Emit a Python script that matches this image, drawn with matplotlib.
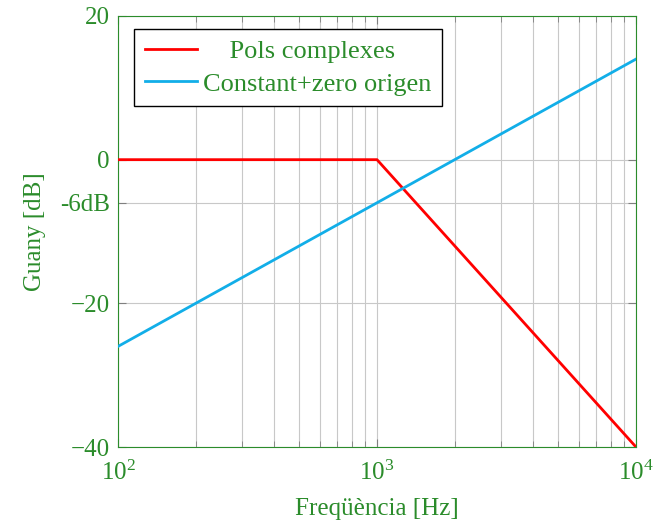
import numpy as np
import matplotlib.pyplot as plt
import matplotlib.ticker as ticker

# Bode asymptotes
freq_pols = [1e2, 1e3, 1e4]
gain_pols = [0, 0, -40]
freq_zero = [1e2, 1e4]
gain_zero = [-26, 14]

ytick_vals = [-40, -20, -6, 0, 20]
ytick_labels = ['\u221240', '\u221220', '-6dB', '0', '20']

green = '#2b8c2b'
plt.rcParams['font.family'] = ['Liberation Serif', 'DejaVu Serif']
plt.rcParams['mathtext.fontset'] = 'stix'

fig = plt.figure(figsize=(6.53, 5.25), dpi=100)
ax = fig.add_axes([118/653, 1 - 447/525, (636-118)/653, (447-16)/525])

ax.plot(freq_pols, gain_pols, color='#ff0000', lw=2, label='    Pols complexes', zorder=3)
ax.plot(freq_zero, gain_zero, color='#12aee8', lw=2, label='Constant+zero origen', zorder=3)

ax.set_xscale('log')
ax.set_xlim(1e2, 1e4)
ax.set_ylim(-40, 20)
ax.set_yticks(ytick_vals)
ax.set_yticklabels(ytick_labels)
ax.xaxis.set_major_formatter(ticker.LogFormatterMathtext())
ax.xaxis.set_minor_locator(ticker.LogLocator(base=10, subs=np.arange(2, 10)))
ax.xaxis.set_minor_formatter(ticker.NullFormatter())

ax.grid(True, which='both', axis='x', color='#c8c8c8', lw=0.8)
ax.grid(True, which='major', axis='y', color='#c8c8c8', lw=0.8)
ax.set_axisbelow(True)

ax.tick_params(which='both', direction='in', top=True, right=True, color='#808080',
               labelcolor=green, labelsize=18, pad=6)
ax.tick_params(axis='x', pad=10)
ax.tick_params(which='major', length=6)
ax.tick_params(which='minor', length=4)
for s in ax.spines.values():
    s.set_color(green)

ax.set_xlabel('Freqüència [Hz]', color=green, fontsize=18, labelpad=9)
ax.set_ylabel('Guany [dB]', color=green, fontsize=18, labelpad=10)

leg = ax.legend(loc='upper left', fontsize=19, frameon=True, fancybox=False,
                edgecolor='black', framealpha=1, borderpad=0.4, handlelength=2.0,
                handletextpad=0.2, labelspacing=0.35, borderaxespad=0,
                bbox_to_anchor=(0.031, 0.97))
leg.get_frame().set_linewidth(1.0)
for t in leg.get_texts():
    t.set_color(green)

fig.savefig('out.png', dpi=100)
